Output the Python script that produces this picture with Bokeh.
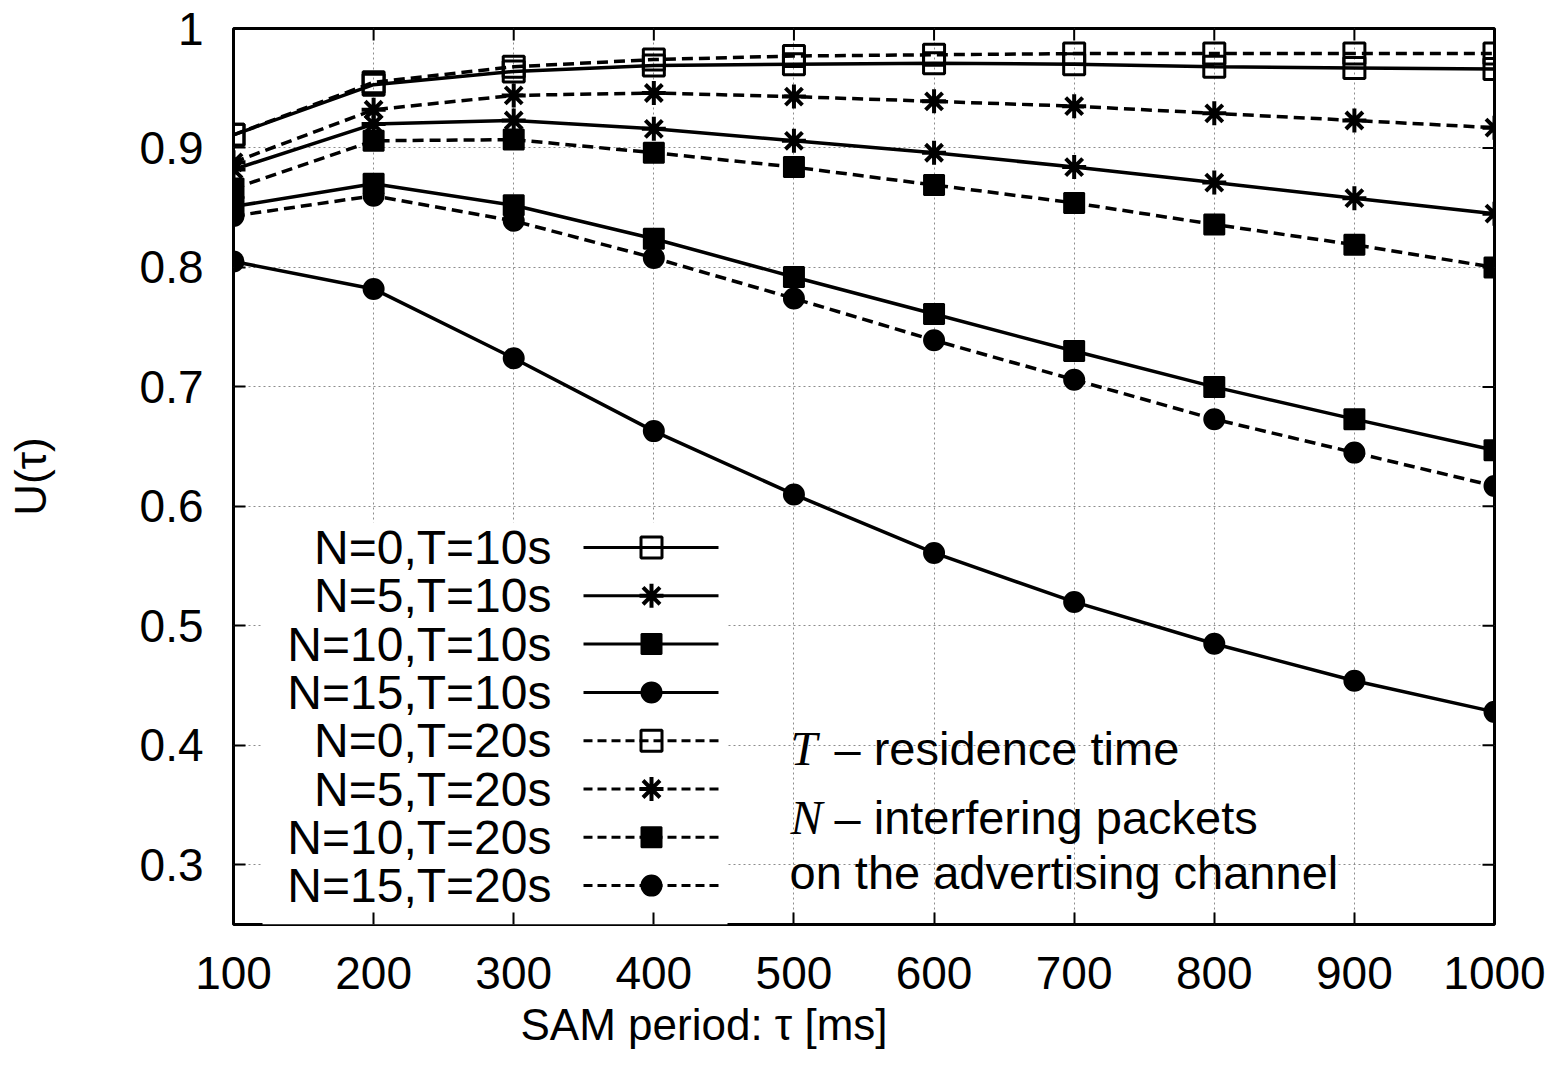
from bokeh.plotting import figure
from bokeh.models import FixedTicker, Label, Title
from bokeh.embed import file_html
from bokeh.resources import INLINE

# ---------------- data ----------------
tau_ms = [100, 200, 300, 400, 500, 600, 700, 800, 900, 1000]

u_n0_t10 = [0.911, 0.953, 0.964, 0.969, 0.970, 0.971, 0.970, 0.968, 0.967, 0.966]
u_n5_t10 = [0.882, 0.920, 0.923, 0.916, 0.906, 0.896, 0.884, 0.871, 0.858, 0.845]
u_n10_t10 = [0.851, 0.870, 0.852, 0.824, 0.792, 0.761, 0.730, 0.700, 0.673, 0.647]
u_n15_t10 = [0.805, 0.782, 0.724, 0.663, 0.610, 0.561, 0.520, 0.485, 0.454, 0.428]
u_n0_t20 = [0.911, 0.955, 0.968, 0.974, 0.977, 0.978, 0.979, 0.979, 0.979, 0.979]
u_n5_t20 = [0.888, 0.932, 0.944, 0.946, 0.943, 0.939, 0.935, 0.929, 0.923, 0.917]
u_n10_t20 = [0.866, 0.906, 0.907, 0.896, 0.884, 0.869, 0.854, 0.836, 0.819, 0.800]
u_n15_t20 = [0.843, 0.860, 0.839, 0.808, 0.774, 0.739, 0.706, 0.673, 0.645, 0.617]

series_labels = ["N=0,T=10s", "N=5,T=10s", "N=10,T=10s", "N=15,T=10s",
                 "N=0,T=20s", "N=5,T=20s", "N=10,T=20s", "N=15,T=20s"]
series_values = [u_n0_t10, u_n5_t10, u_n10_t10, u_n15_t10,
                 u_n0_t20, u_n5_t20, u_n10_t20, u_n15_t20]

x_ticks = [100, 200, 300, 400, 500, 600, 700, 800, 900, 1000]
y_ticks = [0.3, 0.4, 0.5, 0.6, 0.7, 0.8, 0.9, 1.0]
y_tick_labels = ["0.3", "0.4", "0.5", "0.6", "0.7", "0.8", "0.9", "1"]

x_label = "SAM period: \u03c4 [ms]"
y_label = "U(\u03c4)"
note_lines = [("T", "\u2013 residence time"),
              ("N", "\u2013 interfering packets"),
              ("", "on the advertising channel")]

# ---------------- layout / style ----------------
W, H = 1556, 1064
FL, FT, FR, FB = 233, 28, 1494, 924      # frame edges (figure px)
X0, X1 = 100, 1000
Y0, Y1 = 0.25, 1.0
FONT = "Liberation Sans"
LBL_SHIFT = 16  # label baseline compensation (px)


def wx(px):  # picture px -> data x
    return X0 + (px - FL) / (FR - FL) * (X1 - X0)


def wy(py):  # picture px -> data y
    return Y1 - (py - FT) / (FB - FT) * (Y1 - Y0)


p = figure(width=W, height=H, x_range=(X0, X1), y_range=(Y0, Y1),
           output_backend="svg", toolbar_location=None,
           min_border_left=FL, min_border_right=W - FR,
           min_border_top=FT, min_border_bottom=H - FB)
p.background_fill_color = "white"
p.border_fill_color = "white"
p.outline_line_color = "black"
p.outline_line_width = 3

for ax in (p.xaxis[0], p.yaxis[0]):
    ax.axis_line_color = None
    ax.major_tick_in = 12
    ax.major_tick_out = 0
    ax.major_tick_line_width = 2
    ax.major_tick_line_color = "black"
    ax.minor_tick_line_color = None
    ax.major_label_text_font = FONT
    ax.major_label_text_font_size = "46px"
    ax.major_label_text_color = "black"

p.xaxis.ticker = FixedTicker(ticks=x_ticks)
p.xaxis.major_label_standoff = 32
p.yaxis.ticker = FixedTicker(ticks=y_ticks)
p.yaxis.major_label_overrides = dict(zip(y_ticks, y_tick_labels))
p.yaxis.major_label_standoff = 30
p.yaxis.axis_label = y_label
p.yaxis.axis_label_text_font = FONT
p.yaxis.axis_label_text_font_size = "44px"
p.yaxis.axis_label_text_font_style = "normal"
p.yaxis.axis_label_text_color = "black"
p.yaxis.axis_label_standoff = 82

# x axis title (offset to the left like the original)
p.add_layout(Title(text=x_label, align="left", offset=520 - FL, standoff=13,
                   text_font=FONT, text_font_size="44px", text_font_style="normal",
                   text_color="black"), "below")

for g in (p.xgrid[0], p.ygrid[0]):
    g.grid_line_color = "#8c8c8c"
    g.grid_line_dash = "2 3"
    g.grid_line_width = 1

# opaque key box
p.quad(left=wx(262), right=wx(727), top=wy(522), bottom=Y0,
       fill_color="white", line_color=None)

# mirrored inward ticks on top and right edges
p.segment(x0=x_ticks, y0=[Y1] * len(x_ticks), x1=x_ticks, y1=[wy(FT + 12)] * len(x_ticks),
          line_color="black", line_width=2)
p.segment(x0=[X1] * len(y_ticks), y0=y_ticks, x1=[wx(FR - 12)] * len(y_ticks), y1=y_ticks,
          line_color="black", line_width=2)

markers = ["square", "asterisk", "square", "circle"] * 2
fills = [None, None, "black", "black"] * 2
sizes = [21, 24, 20, 20] * 2
lws = [3, 4, 2, 2] * 2
dashes = ["solid"] * 4 + ["11 6"] * 4

for vals, mk, fc, sz, lw, ds in zip(series_values, markers, fills, sizes, lws, dashes):
    p.line(tau_ms, vals, line_color="black", line_width=3.5, line_dash=ds)
    p.scatter(tau_ms, vals, marker=mk, size=sz, line_color="black",
              line_width=lw, fill_color=fc)

# ---------------- key ----------------
for i, (lab, mk, fc, sz, lw, ds) in enumerate(zip(series_labels, markers, fills, sizes, lws, dashes)):
    ry = 547 + i * 48.3
    p.line([wx(583), wx(718)], [wy(ry), wy(ry)], line_color="black", line_width=3,
           line_dash=("solid" if ds == "solid" else "9 5"))
    p.scatter([wx(651)], [wy(ry)], marker=mk, size=sz, line_color="black",
              line_width=lw, fill_color=fc)
    p.add_layout(Label(x=wx(551), y=wy(ry + 16 - LBL_SHIFT), text=lab, text_align="right",
                       text_baseline="alphabetic", text_font=FONT,
                       text_font_size="48px", text_color="black"))

# ---------------- notes ----------------
note_base = [764, 833, 888]
for (sym, rest), by in zip(note_lines, note_base):
    yb = wy(by - LBL_SHIFT)
    if sym:
        p.add_layout(Label(x=wx(790), y=yb, text=sym, text_align="left",
                           text_baseline="alphabetic", text_font="Liberation Serif",
                           text_font_style="italic", text_font_size="48px", text_color="black"))
        p.add_layout(Label(x=wx(834), y=yb, text=rest, text_align="left",
                           text_baseline="alphabetic", text_font=FONT,
                           text_font_size="47px", text_color="black"))
    else:
        p.add_layout(Label(x=wx(789), y=yb, text=rest, text_align="left",
                           text_baseline="alphabetic", text_font=FONT,
                           text_font_size="47px", text_color="black"))

open("out.html", "w").write(file_html(p, INLINE))
